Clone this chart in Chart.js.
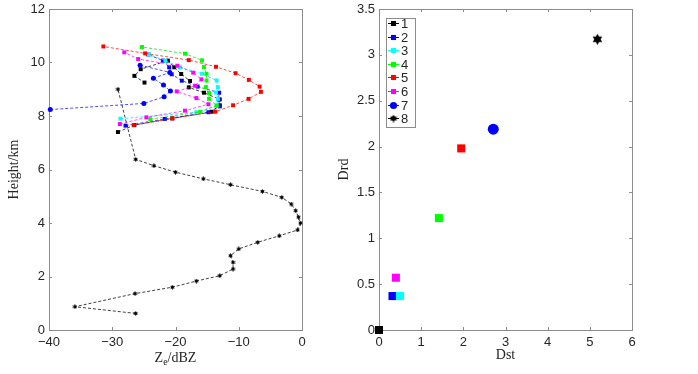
<!DOCTYPE html>
<html>
<head>
<meta charset="utf-8">
<script src="https://cdn.jsdelivr.net/npm/chart.js@4.4.1/dist/chart.umd.min.js"></script>
<style>
  html, body { margin: 0; padding: 0; background: #fff; }
  #wrap { position: relative; width: 698px; height: 374px; }
  #left { position: absolute; left: 0; top: 0; }
  #right { position: absolute; left: 330px; top: 0; }
</style>
</head>
<body>
<div id="wrap">
  <canvas id="left" width="330" height="374"></canvas>
  <canvas id="right" width="368" height="374"></canvas>
</div>
<script>
// profile data: reflectivity Ze (dBZ) against height (km), one pair per series
const z1 = [-29.1, -26.5, -20.5, -14.3, -13.0, -13.0, -15.5, -17.9, -17.7, -19.1, -20.2, -21.2, -25.5, -26.5, -24.9];
const h1 = [7.4, 7.66, 7.91, 8.16, 8.4, 8.62, 8.87, 9.07, 9.31, 9.57, 9.82, 10.07, 9.75, 9.5, 9.25];

const z2 = [-27.9, -21.7, -14.8, -13.0, -13.2, -13.1, -16.5, -19.0, -20.6, -21.0, -22.0, -24.3];
const h2 = [7.64, 7.89, 8.14, 8.36, 8.62, 8.87, 9.1, 9.32, 9.56, 9.82, 10.07, 10.3];

const z3 = [-28.7, -16.7, -13.5, -13.3, -13.6, -13.3, -13.5, -15.8, -19.3, -21.6, -24.2];
const h3 = [7.9, 8.14, 8.39, 8.64, 8.88, 9.08, 9.33, 9.58, 9.82, 10.07, 10.3];

const z4 = [-24.0, -16.1, -13.5, -14.7, -14.7, -15.2, -15.1, -15.1, -15.5, -15.8, -18.5, -25.3];
const h4 = [7.88, 8.15, 8.39, 8.64, 8.86, 9.08, 9.33, 9.58, 9.83, 10.08, 10.33, 10.58];

const z5 = [-26.6, -20.5, -13.7, -10.9, -8.45, -6.5, -6.7, -8.4, -10.5, -13.6, -17.9, -24.8, -31.4];
const h5 = [7.66, 7.91, 8.16, 8.4, 8.64, 8.9, 9.1, 9.35, 9.6, 9.84, 10.09, 10.34, 10.6];

const z6 = [-28.8, -24.6, -18.5, -14.8, -16.7, -19.8, -16.9, -15.9, -17.2, -19.7, -25.9, -28.1];
const h6 = [7.7, 7.95, 8.2, 8.44, 8.67, 8.92, 9.13, 9.37, 9.62, 9.88, 10.13, 10.38];

const z7 = [-39.8, -25.0, -21.8, -20.8, -21.9, -23.5, -20.9, -25.6];
const h7 = [8.24, 8.47, 8.72, 8.93, 9.16, 9.41, 9.63, 9.9];

const z8 = [-26.3, -35.9, -26.4, -20.5, -16.7, -13.0, -10.9, -10.9, -11.3, -10.0, -7.0, -3.6, -0.7, -0.24,
            -0.56, -1.0, -1.7, -3.2, -6.25, -11.3, -15.6, -20.0, -23.4, -26.3, -29.1];
const h8 = [0.62, 0.87, 1.36, 1.6, 1.83, 2.03, 2.28, 2.53, 2.78, 3.03, 3.28, 3.52, 3.74, 4.0,
            4.22, 4.46, 4.71, 4.96, 5.18, 5.43, 5.65, 5.9, 6.14, 6.38, 9.0];

// right panel: one point per series
const seriesNames = ['1', '2', '3', '4', '5', '6', '7', '8'];
const dst = [0, 0.32, 0.50, 1.42, 1.95, 0.40, 2.71, 5.18];
const drd = [0, 0.37, 0.37, 1.22, 1.98, 0.57, 2.19, 3.17];

const zSets = [z1, z2, z3, z4, z5, z6, z7, z8];
const hSets = [h1, h2, h3, h4, h5, h6, h7, h8];

// looks
const colors = ['#000000', '#0000ff', '#00ffff', '#00ff00', '#ff0000', '#ff00ff', '#0000ff', '#000000'];
const lineColors = ['rgba(0,0,0,0.75)', 'rgba(0,0,255,0.7)', 'rgba(0,220,255,0.75)', 'rgba(0,230,0,0.75)',
                    'rgba(255,0,0,0.7)', 'rgba(255,0,255,0.7)', 'rgba(0,0,255,0.7)', 'rgba(0,0,0,0.75)'];
const shapes = ['rect', 'rect', 'rect', 'rect', 'rect', 'rect', 'circle', 'star'];
const TICK_FONT = { family: '"Liberation Sans", Arial, sans-serif', size: 13 };
const TITLE_FONT = { family: '"Liberation Serif", "Times New Roman", serif', size: 14 };
const AXIS_GRAY = '#8c8c8c';
const TEXT = '#262626';

function hexagram(size, color) {
  const c = document.createElement('canvas');
  c.width = c.height = size;
  const g = c.getContext('2d');
  const r = size / 2;
  g.fillStyle = color;
  g.beginPath();
  for (let k = 0; k < 12; k++) {
    const ang = -Math.PI / 2 + k * Math.PI / 6;
    const rr = k % 2 ? r * 0.577 : r;
    const px = r + rr * Math.cos(ang), py = r + rr * Math.sin(ang);
    if (k === 0) g.moveTo(px, py); else g.lineTo(px, py);
  }
  g.closePath();
  g.fill();
  return c;
}

function marker(i, big) {
  if (shapes[i] === 'star') return hexagram(big ? 11 : 5, colors[i]);
  return shapes[i];
}

function markerRadius(i, big) {
  if (shapes[i] === 'circle') return big ? 5.5 : 2.5;
  return big ? 5.7 : 2.8;
}

function axis(min, max, step, size, fmt, pad) {
  return {
    type: 'linear',
    min: min,
    max: max,
    ticks: { stepSize: step, font: TICK_FONT, color: TEXT, padding: pad, callback: fmt },
    grid: { display: false, drawTicks: false },
    border: { display: false },
    afterFit: (s) => {
      // fixed box sizes so both plot areas land where the reference has them
      if (s.isHorizontal()) s.height = size; else s.width = size;
      s.paddingTop = s.paddingBottom = s.paddingLeft = s.paddingRight = 0;
    }
  };
}

const minus = (v) => String(v).replace('-', '\u2212');

// axes box with inward ticks on all four sides
const boxPlugin = {
  id: 'box',
  beforeDatasetsDraw(chart) {
    const { ctx, chartArea: a, scales: { x, y } } = chart;
    const len = 3;
    ctx.save();
    ctx.strokeStyle = AXIS_GRAY;
    ctx.lineWidth = 1;
    ctx.strokeRect(a.left + 0.5, a.top + 0.5, a.right - a.left, a.bottom - a.top);
    ctx.beginPath();
    x.ticks.forEach((t) => {
      const px = Math.round(x.getPixelForValue(t.value)) + 0.5;
      ctx.moveTo(px, a.bottom); ctx.lineTo(px, a.bottom - len);
      ctx.moveTo(px, a.top); ctx.lineTo(px, a.top + len);
    });
    y.ticks.forEach((t) => {
      const py = Math.round(y.getPixelForValue(t.value)) + 0.5;
      ctx.moveTo(a.left, py); ctx.lineTo(a.left + len, py);
      ctx.moveTo(a.right, py); ctx.lineTo(a.right - len, py);
    });
    ctx.stroke();
    ctx.restore();
  }
};

// x title with subscript: Z_e/dBZ
const zeTitle = {
  id: 'zeTitle',
  afterDraw(chart) {
    const { ctx, chartArea: a } = chart;
    const big = '14px "Liberation Serif", "Times New Roman", serif';
    const small = '10px "Liberation Serif", "Times New Roman", serif';
    ctx.save();
    ctx.fillStyle = TEXT;
    ctx.textBaseline = 'alphabetic';
    ctx.font = big;
    const wZ = ctx.measureText('Z').width;
    const wRest = ctx.measureText('/dBZ').width;
    ctx.font = small;
    const wE = ctx.measureText('e').width;
    let x = (a.left + a.right) / 2 - (wZ + wE + wRest) / 2;
    const base = 362;
    ctx.font = big;
    ctx.fillText('Z', x, base);
    x += wZ;
    ctx.font = small;
    ctx.fillText('e', x, base + 3);
    x += wE;
    ctx.font = big;
    ctx.fillText('/dBZ', x, base);
    ctx.restore();
  }
};

// legend drawn inside the plot, top left
const boxLegend = {
  id: 'boxLegend',
  afterDatasetsDraw(chart) {
    const { ctx, chartArea: a } = chart;
    const x0 = a.left + 7, y0 = a.top + 9, w = 29, rowH = 13.6;
    const n = chart.data.datasets.length;
    const h = 109;
    ctx.save();
    ctx.fillStyle = '#fff';
    ctx.fillRect(x0, y0, w, h);
    ctx.strokeStyle = AXIS_GRAY;
    ctx.lineWidth = 1;
    ctx.strokeRect(x0 + 0.5, y0 + 0.5, w, h);
    for (let i = 0; i < n; i++) {
      const ds = chart.data.datasets[i];
      const cy = Math.round(y0 + 5 + rowH * i) + 0.5;
      ctx.strokeStyle = colors[i];
      ctx.beginPath();
      ctx.moveTo(x0 + 2, cy); ctx.lineTo(x0 + 13, cy);
      ctx.stroke();
      ctx.fillStyle = colors[i];
      const style = shapes[i] === 'star' ? hexagram(8, colors[i]) : shapes[i];
      Chart.helpers.drawPoint(ctx, { pointStyle: style, radius: 3.6, borderWidth: 0, rotation: 0 }, x0 + 7.5, cy);
      ctx.fillStyle = TEXT;
      ctx.font = '13px "Liberation Sans", Arial, sans-serif';
      ctx.textBaseline = 'middle';
      ctx.fillText(ds.label, x0 + 15, cy + 0.5);
    }
    ctx.restore();
  }
};

const leftSets = zSets.map((zs, i) => ({
  label: seriesNames[i],
  data: zs.map((z, k) => ({ x: z, y: hSets[i][k] })),
  showLine: true,
  borderColor: lineColors[i],
  backgroundColor: colors[i],
  borderWidth: 1,
  borderDash: [3, 2],
  pointStyle: marker(i, false),
  pointRadius: markerRadius(i, false),
  pointBorderWidth: 0,
  order: zSets.length - i,
  clip: false
}));

new Chart(document.getElementById('left'), {
  type: 'scatter',
  data: { datasets: leftSets },
  options: {
    responsive: false,
    animation: false,
    layout: { padding: { top: 9, right: 28, left: 0, bottom: 0 } },
    scales: {
      x: axis(-40, 0, 10, 44, minus, 5),
      y: Object.assign(axis(0, 12, 2, 49, undefined, 4), {
        title: { display: true, text: 'Height/km', font: TITLE_FONT, color: TEXT, padding: { top: 6 } }
      })
    },
    plugins: { legend: { display: false }, tooltip: { enabled: false } }
  },
  plugins: [boxPlugin, zeTitle]
});

const rightSets = dst.map((d, i) => ({
  label: seriesNames[i],
  data: [{ x: d, y: drd[i] }],
  showLine: false,
  borderColor: colors[i],
  backgroundColor: colors[i],
  pointStyle: marker(i, true),
  pointRadius: markerRadius(i, true),
  pointBorderWidth: 0,
  order: dst.length - i,
  clip: false
}));

const rx = axis(0, 6, 1, 44, undefined, 5);
rx.title = { display: true, text: 'Dst', font: TITLE_FONT, color: TEXT, padding: { bottom: 10 } };
const ry = axis(0, 3.5, 0.5, 49, undefined, 4);
ry.title = { display: true, text: 'Drd', font: TITLE_FONT, color: TEXT, padding: { top: 6 } };

new Chart(document.getElementById('right'), {
  type: 'scatter',
  data: { datasets: rightSets },
  options: {
    responsive: false,
    animation: false,
    layout: { padding: { top: 9, right: 66, left: 0, bottom: 0 } },
    scales: { x: rx, y: ry },
    plugins: { legend: { display: false }, tooltip: { enabled: false } }
  },
  plugins: [boxPlugin, boxLegend]
});
</script>
</body>
</html>
